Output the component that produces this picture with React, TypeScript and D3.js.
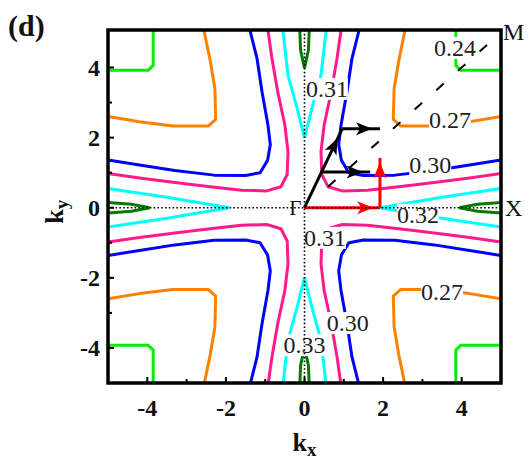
import React from 'react';
import * as d3 from 'd3';

// --- chart data ---
// contour pieces in the kx<0, ky>0 quadrant; each one is mirrored into all four quadrants
const green = [[-5, 3.92], [-3.98, 3.92], [-3.85, 4.06], [-3.85, 5.07]];
const orange = [[-5, 2.6], [-4.2, 2.45], [-3.35, 2.33], [-2.45, 2.33], [-2.26, 2.52], [-2.28, 3.4], [-2.4, 4.2], [-2.56, 5.07]];
const blue = [[-5, 1.36], [-4.2, 1.22], [-3.3, 1.06], [-2.3, 0.93], [-1.5, 0.92], [-1.13, 1.0], [-0.94, 1.35], [-0.87, 1.8], [-0.93, 2.36], [-1.08, 3.3], [-1.21, 4.27], [-1.39, 5.07]];
const pink = [[-5, 0.98], [-4.2, 0.85], [-3.3, 0.72], [-2.4, 0.6], [-1.6, 0.5], [-0.96, 0.48], [-0.6, 0.6], [-0.44, 0.95], [-0.42, 1.6], [-0.5, 2.36], [-0.68, 3.3], [-0.83, 4.27], [-0.93, 5.07]];
const cyanTop = [[-0.55, 5.07], [-0.42, 3.78], [-0.19, 2.84], [0, 1.99]];
const cyanSide = [[-5, 0.55], [-3.5, 0.3], [-1.92, 0]];
const dkGreenTop = [[-0.12, 5.07], [-0.1, 4.5], [0, 3.98]];
const dkGreenSide = [[-5, 0.15], [-4.4, 0.1], [-3.94, 0]];

const contourColors: [number[][], string][] = [
  [green, '#00ee00'], [orange, '#ff8000'], [blue, '#0000ff'], [pink, '#ff1a8c'],
  [cyanTop, '#00ffff'], [cyanSide, '#00ffff'], [dkGreenTop, '#007a00'], [dkGreenSide, '#007a00'],
];

// level labels: [kx, ky, text]
const levelLabels: [number, number, string][] = [
  [3.83, 4.56, '0.24'], [0.57, 3.39, '0.31'], [3.7, 2.5, '0.27'], [3.2, 1.22, '0.30'],
  [2.89, -0.2, '0.32'], [0.52, -0.86, '0.31'], [3.5, -2.4, '0.27'], [1.1, -3.29, '0.30'], [0, -3.92, '0.33'],
];

const xTicks = [-4, -2, 0, 2, 4];
const yTicks = [-4, -2, 0, 2, 4];
const minorTicks = [-3, -1, 1, 3];

// path arrows: [from, to, head tip]
const blackArrows = [
  [[0, 0], [0.96, 2.25], [0.84, 1.98]],
  [[0.96, 2.25], [1.92, 2.25], [1.72, 2.25]],
  [[0.45, 1.02], [1.67, 1.02], [1.48, 1.02]],
];
const redArrows = [
  [[0, 0], [1.92, 0], [1.75, 0]],
  [[1.92, 0], [1.92, 1.42], [1.92, 1.3]],
];
const gmStart = 0.6;
const gmEnd = 5;

export default function App() {
  const x = d3.scaleLinear().domain([-5, 5]).range([108, 501]);
  const y = d3.scaleLinear().domain([-5, 5.07]).range([383, 30]);
  const line = d3.line<number[]>().x(d => x(d[0])).y(d => y(d[1]));
  const mirrors = [[1, 1], [-1, 1], [1, -1], [-1, -1]];
  const [x0, x1] = x.range();
  const [y0, y1] = y.range();

  const head = (a: number[], b: number[], tip: number[], len = 16, w = 6.5) => {
    const dx = x(b[0]) - x(a[0]), dy = y(b[1]) - y(a[1]);
    const L = Math.hypot(dx, dy);
    const ux = dx / L, uy = dy / L;
    const tx = x(tip[0]), ty = y(tip[1]);
    const bx = tx - ux * len, by = ty - uy * len;
    return `${tx},${ty} ${bx - uy * w},${by + ux * w} ${tx - ux * len * 0.75},${ty - uy * len * 0.75} ${bx + uy * w},${by - ux * w}`;
  };

  const serif = 'Liberation Serif, DejaVu Serif, serif';

  return (
    <svg width={530} height={459} style={{ position: 'absolute', left: 0, top: 0, background: '#fff', fontFamily: serif }}>
      <defs>
        <clipPath id="plotClip">
          <rect x={x0} y={y1} width={x1 - x0} height={y0 - y1} />
        </clipPath>
      </defs>
      <g clipPath="url(#plotClip)" fill="none" strokeWidth={3} strokeLinejoin="round">
        {contourColors.map(([pts, col], i) =>
          mirrors.map(([sx, sy], j) => (
            <path key={`${i}-${j}`} d={line(pts.map(p => [p[0] * sx, p[1] * sy])) || ''} stroke={col} />
          ))
        )}
      </g>
      {/* level labels */}
      {levelLabels.map(([kx, ky, t], i) => (
        <g key={i}>
          <rect x={x(kx) - 21} y={y(ky) - 11} width={42} height={22} fill="#fff" />
          <text x={x(kx)} y={y(ky) + 8} textAnchor="middle" fontSize={24} fill="#222"
            style={{ fontFamily: serif }}>{t}</text>
        </g>
      ))}
      {/* high symmetry lines */}
      <g stroke="#000" strokeWidth={1.6} strokeDasharray="1.6 2.2" fill="none">
        <line x1={x0} x2={x1} y1={y(0)} y2={y(0)} />
        <line x1={x(0)} x2={x(0)} y1={y1} y2={y0} />
      </g>
      <line x1={x(gmStart)} y1={y(gmStart)} x2={x(gmEnd)} y2={y(gmEnd)} stroke="#000" strokeWidth={2}
        strokeDasharray="10 19" />
      {/* paths */}
      {redArrows.map(([a, b, t], i) => (
        <g key={`r${i}`}>
          <line x1={x(a[0])} y1={y(a[1])} x2={x(b[0])} y2={y(b[1])} stroke="#ff0000" strokeWidth={3} />
          <polygon points={head(a, b, t)} fill="#ff0000" />
        </g>
      ))}
      <line x1={x(0)} x2={x(1.92)} y1={y(0)} y2={y(0)} stroke="#000" strokeWidth={1.3} strokeDasharray="1.6 2.2" />
      {blackArrows.map(([a, b, t], i) => (
        <g key={`b${i}`}>
          <line x1={x(a[0])} y1={y(a[1])} x2={x(b[0])} y2={y(b[1])} stroke="#000" strokeWidth={3} />
          <polygon points={head(a, b, t)} fill="#000" />
        </g>
      ))}
      {/* frame and ticks */}
      <rect x={x0} y={y1} width={x1 - x0} height={y0 - y1} fill="none" stroke="#000" strokeWidth={3.5} />
      <g stroke="#000" strokeWidth={2}>
        {xTicks.map(t => <line key={`xt${t}`} x1={x(t)} x2={x(t)} y1={y0} y2={y0 - 6} />)}
        {minorTicks.map(t => <line key={`xm${t}`} x1={x(t)} x2={x(t)} y1={y0} y2={y0 - 4} />)}
        {yTicks.map(t => <line key={`yt${t}`} x1={x0} x2={x0 + 6} y1={y(t)} y2={y(t)} />)}
        {minorTicks.map(t => <line key={`ym${t}`} x1={x0} x2={x0 + 4} y1={y(t)} y2={y(t)} />)}
      </g>
      <g fontSize={24} fontWeight="bold" fill="#111" style={{ fontFamily: serif }}>
        {xTicks.map(t => (
          <text key={`xl${t}`} x={x(t)} y={y0 + 33} textAnchor="middle">{t}</text>
        ))}
        {yTicks.map(t => (
          <text key={`yl${t}`} x={x0 - 8} y={y(t) + 8} textAnchor="end">{t}</text>
        ))}
      </g>
      <text x={x(0)} y={451} textAnchor="middle" fontSize={26} fontWeight="bold" fill="#111" style={{ fontFamily: serif }}>
        k<tspan fontSize={19} dy={5}>x</tspan>
      </text>
      <text transform={`translate(63,${y(0) + 4}) rotate(-90)`} textAnchor="middle" fontSize={26}
        fontWeight="bold" fill="#111" style={{ fontFamily: serif }}>
        k<tspan fontSize={19} dy={5}>y</tspan>
      </text>
      <text x={x(0) - 3} y={y(0) + 7} textAnchor="end" fontSize={21} fill="#111" style={{ fontFamily: serif }}>Γ</text>
      <text x={505} y={y(0) + 8} fontSize={24} fill="#111" style={{ fontFamily: serif }}>X</text>
      <text x={503} y={40} fontSize={24} fill="#111" style={{ fontFamily: serif }}>M</text>
      <text x={8} y={36} fontSize={30} fontWeight="bold" fill="#111" style={{ fontFamily: serif }}>(d)</text>
    </svg>
  );
}
